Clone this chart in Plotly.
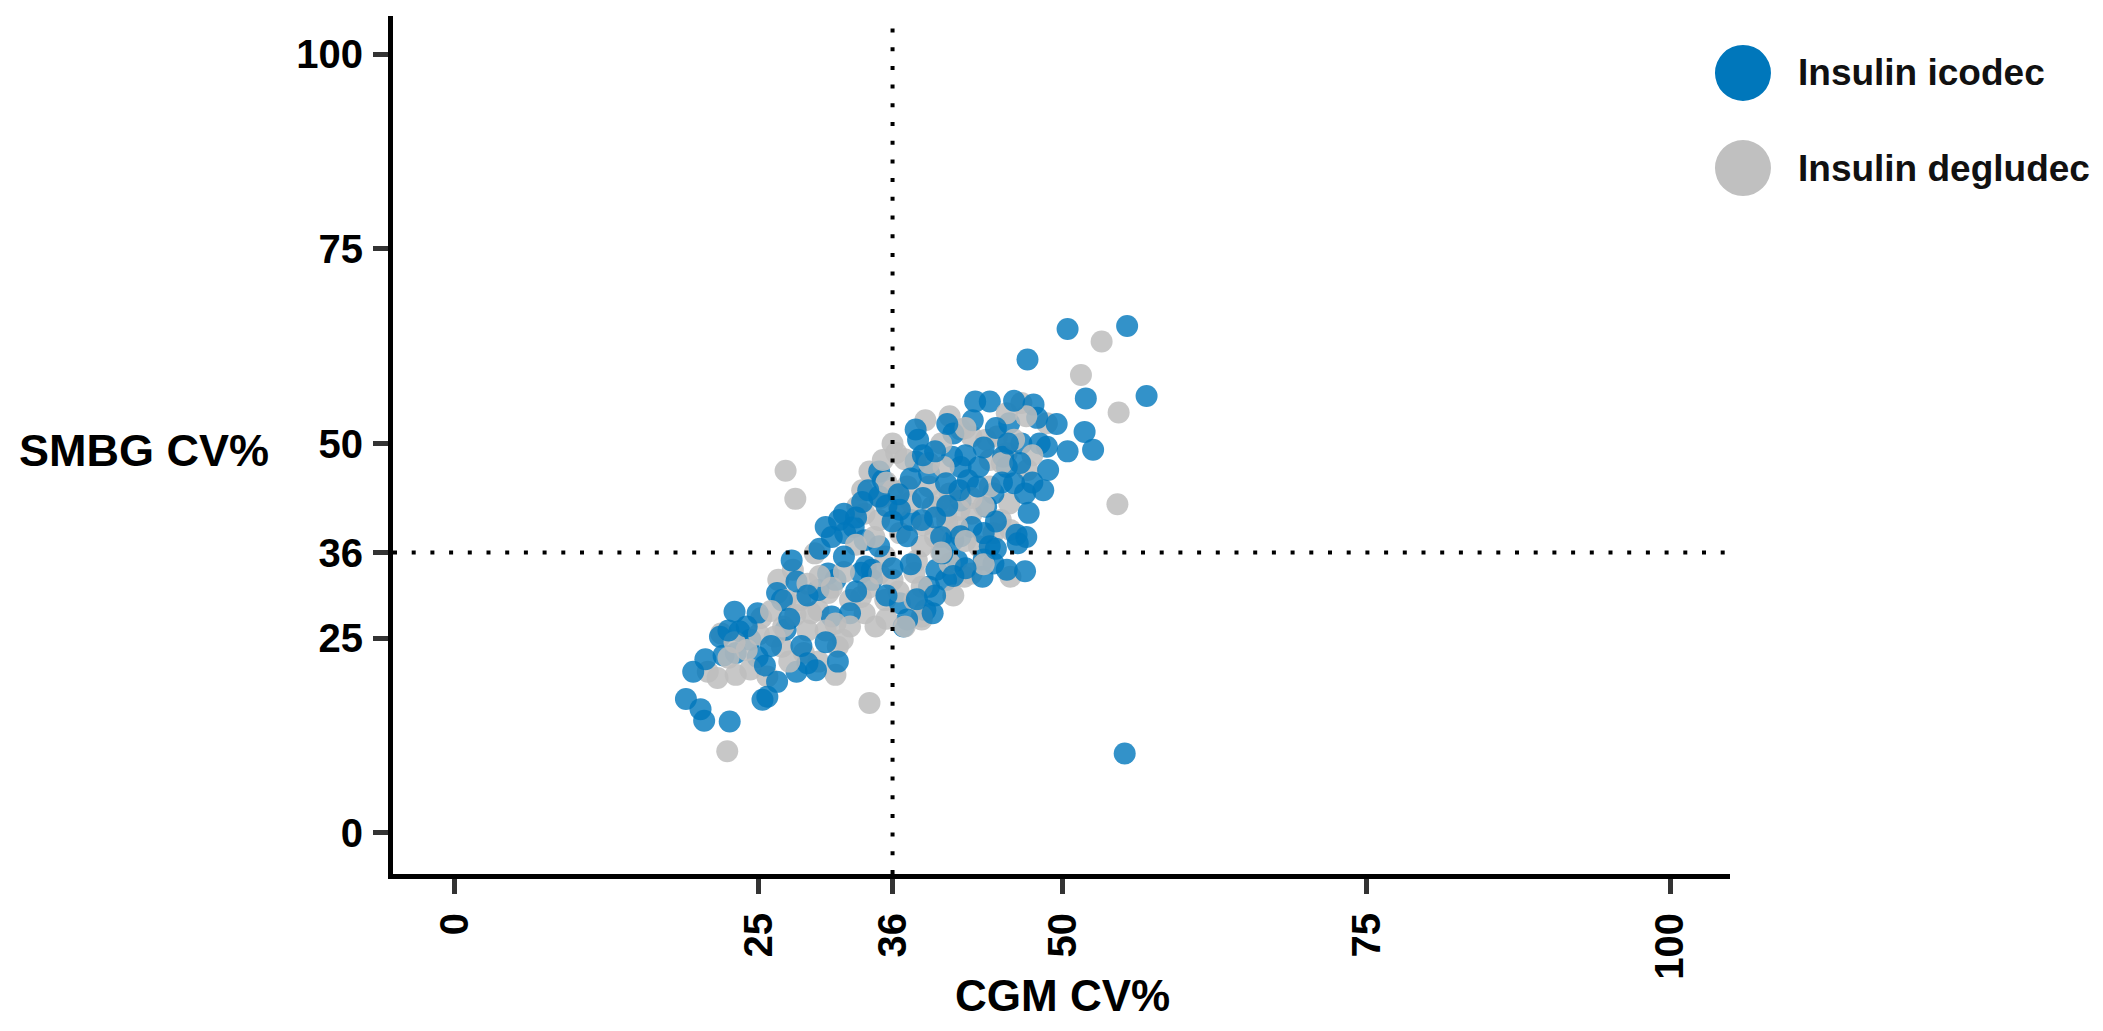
import plotly.graph_objects as go

# ---------------- data ----------------
icodec_cgm = [50.4, 55.3, 47.1, 51.9, 56.9, 51.8, 50.4, 52.5, 55.1, 19.0, 20.2, 20.5, 22.6, 25.3, 25.7,
              19.6, 20.6, 22.1, 23.0, 21.8, 23.4, 24.3, 24.9, 26.5, 28.1, 29.7, 27.2, 27.7, 26.5, 28.1,
              30.5, 31.6, 32.8, 32.1, 30.7, 29.9, 31.3, 32.5, 31.0, 33.8, 34.3, 34.9, 34.3, 36.9, 36.6,
              38.7, 34.9, 35.2, 37.9, 38.1, 37.9, 37.5, 39.0, 41.0, 40.9, 41.6, 42.8, 44.0, 42.6, 43.1,
              42.2, 41.6, 42.5, 41.0, 41.3, 39.6, 40.4, 39.0, 39.3, 37.2, 47.6, 47.9, 45.6, 46.6, 48.1,
              48.7, 45.1, 45.4, 48.8, 46.0, 48.4, 46.9, 44.3, 43.7, 47.2, 46.2, 46.3, 43.5, 44.3, 45.4,
              46.9, 43.4, 44.0, 41.6, 36.6, 37.2, 40.4, 29.0, 24.9, 33.4, 34.9, 33.7, 38.4, 40.1, 23.1,
              26.9,
              31.0, 32.0, 33.0, 33.5, 34.0, 35.5, 36.0, 36.5, 37.5, 38.5, 39.5, 40.0, 40.5, 41.5, 42.0,
              43.0, 43.5, 44.5, 45.0, 45.5, 46.5, 47.5, 47.0, 44.5, 42.0, 41.0, 39.5, 38.0, 37.5, 36.0,
              35.5, 33.0, 32.0, 30.0, 29.0, 27.5, 26.0, 24.0, 22.5, 25.5, 28.5, 30.5, 31.5, 38.5, 39.5,
              40.5, 43.5, 44.5, 46.0, 49.5]
icodec_smbg = [64.7, 65.1, 60.8, 55.8, 56.1, 51.5, 49.0, 49.2, 10.2, 17.2, 15.9, 14.4, 14.3, 17.1, 17.5,
               20.7, 22.3, 22.8, 28.4, 25.2, 25.9, 24.8, 22.6, 19.4, 20.7, 20.9, 26.1, 35.0, 30.8, 32.3,
               39.3, 40.2, 39.3, 38.5, 33.3, 31.2, 32.5, 28.2, 27.8, 34.2, 32.5, 36.8, 33.8, 26.5, 29.5,
               28.6, 46.4, 45.3, 51.8, 50.5, 47.7, 40.2, 46.2, 51.3, 48.3, 47.0, 55.4, 55.4, 53.0, 47.0,
               45.3, 42.7, 39.3, 37.6, 35.0, 33.8, 32.5, 31.6, 28.2, 27.4, 55.0, 53.3, 52.6, 50.0, 50.0,
               49.6, 48.3, 47.0, 46.6, 44.9, 44.0, 43.6, 43.6, 41.9, 41.1, 38.3, 37.2, 35.1, 34.6, 33.8,
               33.6, 32.9, 36.8, 38.1, 41.5, 38.1, 44.9, 21.8, 28.2, 33.4, 43.2, 37.6, 40.2, 35.9, 23.1,
               29.9,
               38.0, 41.0, 40.5, 42.5, 44.0, 42.0, 40.0, 43.5, 45.5, 43.0, 40.5, 38.0, 42.0, 44.0, 48.5,
               44.5, 38.5, 40.0, 45.0, 50.0, 47.5, 45.0, 38.0, 36.5, 34.0, 33.0, 30.5, 30.0, 34.5, 34.0,
               30.5, 31.0, 35.5, 36.5, 30.5, 27.5, 24.0, 26.5, 26.0, 21.5, 24.0, 24.5, 22.0, 48.5, 49.0,
               52.5, 49.5, 52.0, 55.5, 52.5]

degludec_cgm = [53.2, 51.5, 54.6, 54.5, 27.2, 28.0, 34.1, 22.4, 20.8, 21.6, 23.1, 21.9, 25.2, 25.7, 26.9,
                28.7, 29.9, 31.3, 31.5, 31.9, 29.0, 26.6, 27.8, 29.6, 28.4, 29.9, 30.7, 33.7, 34.9, 33.7,
                34.6, 35.4, 36.0, 35.4, 33.4, 32.5, 38.4, 37.8, 38.4, 36.6, 34.1, 36.0, 36.3, 38.7, 37.2,
                39.0, 39.9, 40.4, 40.7, 41.6, 42.5, 43.7, 44.0, 42.5, 41.9, 37.8, 38.4, 46.6, 48.7, 44.6,
                45.4, 47.1, 45.6, 44.9, 44.3, 45.7, 43.1, 45.7, 42.5, 40.7, 36.0, 40.2, 33.1, 35.2, 39.3,
                40.7, 38.4, 34.9, 31.3, 27.2, 29.3, 26.3, 24.3, 45.4, 41.3,
                33.5, 35.0, 36.5, 37.5, 38.5, 39.5, 40.5, 41.5, 42.5, 43.5, 44.0, 45.0, 46.0, 47.5, 47.0,
                42.0, 40.0, 39.0, 37.0, 35.5, 34.5, 33.0, 32.0, 31.0, 30.0, 29.0, 28.0, 27.0, 26.0, 25.0,
                24.0, 23.0, 22.5, 27.5, 30.5, 32.5, 34.0, 36.5, 38.0, 40.0, 42.0, 43.5, 41.0, 37.0, 35.5]
degludec_smbg = [63.1, 58.8, 54.0, 42.2, 46.5, 42.9, 16.7, 10.5, 20.7, 19.9, 20.3, 25.6, 27.6, 20.1, 23.9,
                 23.1, 22.0, 20.3, 23.9, 24.8, 26.0, 32.5, 33.8, 35.9, 29.9, 28.6, 30.8, 41.0, 40.2, 28.2,
                 26.5, 29.9, 32.5, 35.5, 30.3, 29.9, 27.4, 33.4, 36.8, 38.5, 46.4, 50.0, 48.8, 53.0, 44.5,
                 44.5, 42.7, 41.0, 53.5, 51.8, 50.9, 50.5, 47.9, 41.0, 32.9, 29.9, 27.8, 55.2, 52.6, 50.9,
                 48.8, 46.6, 42.3, 40.2, 38.5, 38.9, 36.8, 32.9, 33.3, 34.6, 44.0, 47.0, 41.9, 47.9, 41.9,
                 43.6, 31.6, 33.3, 26.9, 29.9, 28.2, 25.2, 21.0, 53.9, 39.3,
                 44.0, 43.0, 42.0, 42.5, 39.5, 38.0, 40.0, 41.5, 43.0, 42.0, 44.5, 47.5, 50.5, 48.5, 53.5,
                 52.0, 50.0, 47.5, 48.0, 45.0, 38.0, 37.0, 33.5, 31.5, 33.0, 32.0, 28.0, 26.5, 28.5, 25.5,
                 23.5, 24.5, 22.5, 22.0, 26.0, 26.5, 31.5, 31.0, 35.0, 36.0, 37.5, 34.5, 30.5, 26.5, 27.5]

tick_vals = [0, 25, 36, 50, 75, 100]
tick_text = ["0", "25", "36", "50", "75", "100"]
threshold = 36
series_names = ["Insulin icodec", "Insulin degludec"]

BLUE = "rgba(0,119,187,0.8)"
GRAY = "rgba(189,189,189,0.85)"
BLUE_SOLID = "#0077BB"
GRAY_SOLID = "#C0C0C0"
FONT = "Liberation Sans, Arial, sans-serif"

# interleave the two groups so overlaps mix as in the reference
xs, ys, cols = [], [], []
n = max(len(icodec_cgm), len(degludec_cgm))
for i in range(n):
    if i < len(degludec_cgm):
        xs.append(degludec_cgm[i]); ys.append(degludec_smbg[i]); cols.append(GRAY)
    if i < len(icodec_cgm):
        xs.append(icodec_cgm[i]); ys.append(icodec_smbg[i]); cols.append(BLUE)

fig = go.Figure()
fig.add_trace(go.Scatter(x=xs, y=ys, mode="markers",
                         marker=dict(size=22, color=cols, line=dict(width=0)),
                         showlegend=False))

# threshold dotted lines
fig.add_shape(type="line", xref="x", yref="paper", x0=threshold, x1=threshold, y0=0, y1=1,
              line=dict(color="black", width=4, dash="4px,14.7px"), layer="above")
fig.add_shape(type="line", xref="paper", yref="y", x0=0, x1=1, y0=threshold, y1=threshold,
              line=dict(color="black", width=4, dash="4px,14.7px"), layer="above")

# manual legend (large circles)
leg_y = [0.9336, 0.8228]
leg_cols = [BLUE_SOLID, GRAY_SOLID]
for name, col, yy in zip(series_names, leg_cols, leg_y):
    fig.add_shape(type="circle", xref="paper", yref="paper",
                  xsizemode="pixel", ysizemode="pixel", xanchor=1.0097, yanchor=yy,
                  x0=-28, x1=28, y0=-28, y1=28,
                  fillcolor=col, line=dict(width=0))
    fig.add_annotation(xref="paper", yref="paper", x=1.0495, y=yy, xanchor="left", yanchor="middle",
                       text="<b>%s</b>" % name, showarrow=False,
                       font=dict(family=FONT, size=37, color="#111111"))

# axis titles
fig.add_annotation(xref="paper", yref="y", x=-0.2812, y=49.1, xanchor="left", yanchor="middle",
                   text="<b>SMBG CV%</b>", showarrow=False,
                   font=dict(family=FONT, size=45, color="black"))
fig.add_annotation(xref="x", yref="paper", x=50, y=-0.1715, xanchor="center", yanchor="bottom",
                   text="<b>CGM CV%</b>", showarrow=False, borderpad=0,
                   font=dict(family=FONT, size=44, color="black"))

axis_common = dict(
    showgrid=False, zeroline=False, showline=True, linecolor="black", linewidth=5,
    ticks="outside", ticklen=15, tickwidth=5, tickcolor="#333333",
    tickmode="array", tickvals=tick_vals, ticktext=tick_text,
    tickfont=dict(family=FONT, size=40, color="black", weight="bold"),
)

# page body has an 8px margin: figure is sized/positioned to compensate
fig.update_layout(
    width=2087, height=1015,
    margin=dict(l=385, r=365, t=8, b=149),
    paper_bgcolor="white", plot_bgcolor="white",
    xaxis=dict(range=[-5.1, 104.9], tickangle=-90, ticklabelstandoff=3, **axis_common),
    yaxis=dict(range=[-5.27, 104.9], ticklabelstandoff=2, **axis_common),
    showlegend=False,
)

fig.write_html("out.html")
